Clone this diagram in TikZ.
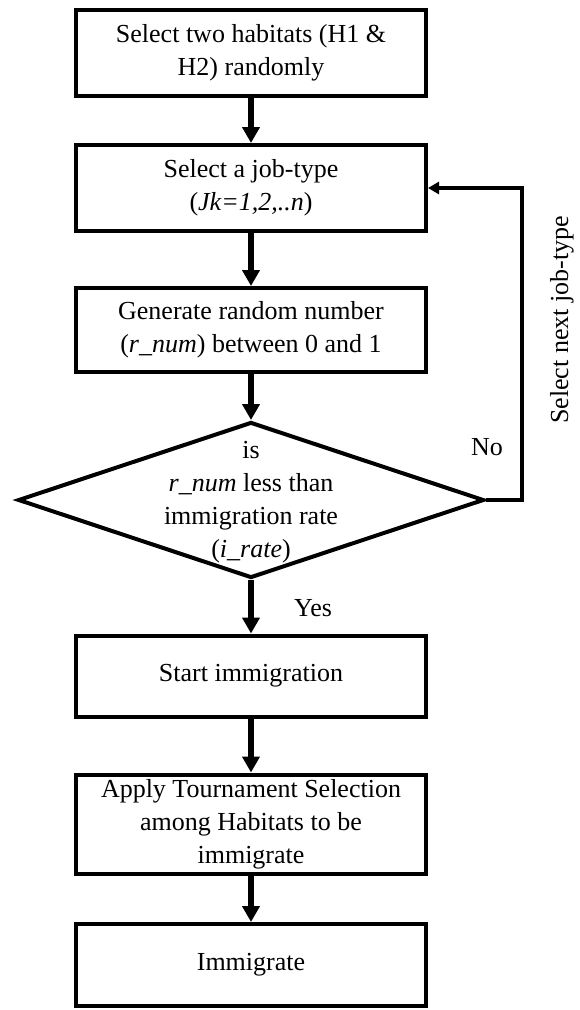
\documentclass[tikz,border=0pt]{standalone}
\usepackage{fontspec}
\setmainfont{Liberation Serif}
\usetikzlibrary{shapes.geometric,arrows.meta}
\begin{document}
\begin{tikzpicture}[x=1pt,y=-1pt,
  txt/.style={font=\fontsize{26}{33}\selectfont},
  box/.style={txt, draw, line width=4pt, minimum width=350pt, inner sep=0pt, align=center},
  flow/.style={line width=6pt, -{Triangle[width=17pt,length=16pt]}},
  back/.style={line width=4pt, -{Triangle[width=12pt,length=11pt]}},
  lbl/.style={txt, inner sep=0pt}]
\useasboundingbox (0,0) rectangle (580,1010);
\node[box, minimum height=86pt] (b1) at (251,53) {Select two habitats (H1 \&\\H2) randomly};
\node[box, minimum height=86pt] (b2) at (251,188) {Select a job-type\\(\textit{Jk=1,2,..n})};
\node[box, minimum height=84pt] (b3) at (251,330) {Generate random number\\(\textit{r\_num}) between 0 and 1};
\node[draw, diamond, line width=4pt, minimum width=466pt, minimum height=156pt, inner sep=0pt] (dec) at (251,500) {};
\node[lbl, align=center] (dectext) at (251,502) {is\\\textit{r\_num} less than\\immigration rate\\(\textit{i\_rate})};
\node[box, minimum height=81pt] (b4) at (251,676) {Start immigration};
\node[box, minimum height=99pt] (b5) at (251,824) {Apply Tournament Selection\\among Habitats to be\\immigrate};
\node[box, minimum height=82pt] (b6) at (251,965) {Immigrate};
\coordinate (lp) at (522,188);
\draw[flow] (b1) -- (b2);
\draw[flow] (b2) -- (b3);
\draw[flow] (b3) -- (dec);
\draw[flow] (dec) -- (b4);
\draw[flow] (b4) -- (b5);
\draw[flow] (b5) -- (b6);
\draw[back] (dec.east) -| (lp) -- (b2.east);
\node[lbl] (no) at (487,447) {No};
\node[lbl] (yes) at (313,608) {Yes};
\node[lbl, rotate=90] (next) at (562,320) {Select next job-type};
\end{tikzpicture}
\end{document}
